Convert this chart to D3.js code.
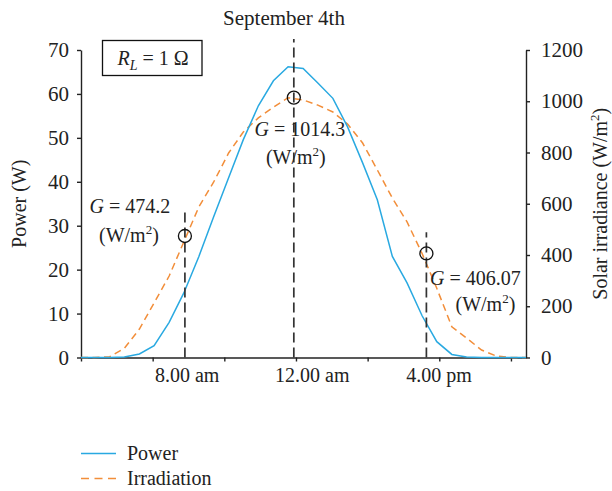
<!DOCTYPE html>
<html>
<head>
<meta charset="utf-8">
<script src="https://d3js.org/d3.v7.min.js"></script>
<style>
    body { margin: 0; background: #fff; }
    text { font-family: "Liberation Serif", "Times New Roman", serif; fill: #222; }
</style>
</head>
<body>
<svg id="chart" width="612" height="491"></svg>
<script>
// hour of day for each sample
const hours = [6.0, 6.38, 6.80, 7.21, 7.63, 8.04, 8.46, 8.87, 9.29, 9.70, 10.12, 10.53, 10.95, 11.37, 11.78,
    12.20, 12.61, 13.03, 13.44, 13.86, 14.27, 14.69, 15.10, 15.52, 15.93, 16.35, 16.76, 17.18, 17.59, 18.01, 18.42];
const power = [0, 0, 0, 0.1, 0.8, 2.7, 8.0, 14.7, 23.0, 32.0, 40.9, 49.6, 57.3, 63.0, 66.2,
    65.8, 62.5, 59.0, 52.5, 44.3, 35.9, 23.0, 17.0, 9.5, 3.6, 0.7, 0.1, 0, 0, 0, 0];
const irradiation = [0, 0, 3, 36, 111, 213, 318, 451, 588, 684, 798, 880, 935, 977, 1014,
    1005, 985, 958, 911, 837, 732, 622, 529, 406, 270, 120, 76, 29, 6, 0, 0];

const xTicks = [6, 8, 10, 12, 14, 16, 18];
const xLabelHours = [8.95, 12.44, 15.98];
const xLabels = ["8.00 am", "12.00 am", "4.00 pm"];
const powerTicks = [0, 10, 20, 30, 40, 50, 60, 70];
const irrTicks = [0, 200, 400, 600, 800, 1000, 1200];

// marked readings
const markerHours = [8.9, 11.94, 15.64];
const markerG = [474.2, 1014.3, 406.07];
const markerText = ["474.2", "1014.3", "406.07"];
const guideTop = [33.5, 72.5, 28.5]; // top of dashed guides, in W

const blue = "#29a9e1";
const orange = "#f28e3a";
const ink = "#222";

const svg = d3.select("#chart");

let margin = { top: 50, right: 86, bottom: 133.5, left: 81 };
let width = 612 - margin.left - margin.right;
let height = 491 - margin.top - margin.bottom;

let xScale = d3.scaleLinear().domain([6, 18.42]).range([margin.left, margin.left + width]);
let yPower = d3.scaleLinear().domain([0, 70]).range([margin.top + height, margin.top]);
let yIrr = d3.scaleLinear().domain([0, 1200]).range([margin.top + height, margin.top]);

const styleAxis = g => {
    g.selectAll("path, line").attr("stroke", ink).attr("stroke-width", 1.4);
    g.selectAll("text").attr("font-size", 21).attr("font-family", "Liberation Serif").attr("fill", ink);
};

// axes
svg.append("g")
    .attr("transform", "translate(" + margin.left + ",0)")
    .call(d3.axisLeft(yPower).tickValues(powerTicks).tickSize(4).tickSizeOuter(0).tickPadding(8))
    .call(styleAxis);

svg.append("g")
    .attr("transform", "translate(" + (margin.left + width) + ",0)")
    .call(d3.axisRight(yIrr).tickValues(irrTicks).tickSize(4).tickSizeOuter(0).tickPadding(11)
        .tickFormat(d3.format("d")))
    .call(styleAxis);

svg.append("g")
    .attr("transform", "translate(0," + (margin.top + height) + ")")
    .call(d3.axisBottom(xScale).tickValues(xTicks).tickSize(4).tickSizeOuter(0).tickFormat(""))
    .call(styleAxis);

svg.append("g")
    .attr("transform", "translate(0," + (margin.top + height) + ")")
    .call(d3.axisBottom(xScale).tickValues(xLabelHours).tickSize(0).tickPadding(10)
        .tickFormat((d, i) => xLabels[i]))
    .call(styleAxis)
    .call(g => g.select(".domain").remove())
    .call(g => g.selectAll("text").attr("font-size", 20));

// curves
let powerLine = d3.line()
    .x((d, i) => xScale(hours[i]))
    .y(d => yPower(d));

let irrLine = d3.line()
    .x((d, i) => xScale(hours[i]))
    .y(d => yIrr(d));

svg.append("path")
    .datum(irradiation)
    .attr("d", irrLine)
    .attr("fill", "none")
    .attr("stroke", orange)
    .attr("stroke-width", 1.5)
    .attr("stroke-dasharray", "7,4.5");

svg.append("path")
    .datum(power)
    .attr("d", powerLine)
    .attr("fill", "none")
    .attr("stroke", blue)
    .attr("stroke-width", 1.5);

// dashed guides and circles
svg.selectAll(".guide")
    .data(markerHours)
    .enter()
    .append("line")
    .attr("class", "guide")
    .attr("x1", d => xScale(d))
    .attr("x2", d => xScale(d))
    .attr("y1", yPower(0))
    .attr("y2", (d, i) => yPower(guideTop[i]))
    .attr("stroke", "#333")
    .attr("stroke-width", 1.7)
    .attr("stroke-dasharray", "10,5");

svg.selectAll(".marker")
    .data(markerHours)
    .enter()
    .append("circle")
    .attr("class", "marker")
    .attr("cx", d => xScale(d))
    .attr("cy", (d, i) => yIrr(markerG[i]))
    .attr("r", 6.5)
    .attr("fill", "none")
    .attr("stroke", "#111")
    .attr("stroke-width", 1.3);

// annotation offsets from each circle: [dx1, dy1, dx2, dy2]
const noteOffsets = [[-55, -23, -56, 6], [6, 38, 2, 66], [49, 32, 59, 58]];

markerHours.forEach((h, i) => {
    let cx = xScale(h);
    let cy = yIrr(markerG[i]);
    let o = noteOffsets[i];
    let t1 = svg.append("text")
        .attr("x", cx + o[0]).attr("y", cy + o[1])
        .attr("text-anchor", "middle").attr("font-size", 20);
    t1.append("tspan").attr("font-style", "italic").text("G");
    t1.append("tspan").text(" = " + markerText[i]);

    let t2 = svg.append("text")
        .attr("x", cx + o[2]).attr("y", cy + o[3])
        .attr("text-anchor", "middle").attr("font-size", 20);
    t2.append("tspan").text("(W/m");
    t2.append("tspan").attr("font-size", 13).attr("dy", -8).text("2");
    t2.append("tspan").attr("dy", 8).text(")");
});

// title
svg.append("text")
    .attr("x", 284).attr("y", 25)
    .attr("text-anchor", "middle")
    .attr("font-size", 21)
    .text("September 4th");

// load box
svg.append("rect")
    .attr("x", 102.5).attr("y", 40.5)
    .attr("width", 99.5).attr("height", 35)
    .attr("fill", "#fff")
    .attr("stroke", "#111")
    .attr("stroke-width", 1.3);

let rl = svg.append("text")
    .attr("x", 153).attr("y", 65)
    .attr("text-anchor", "middle")
    .attr("font-size", 20);
rl.append("tspan").attr("font-style", "italic").text("R");
rl.append("tspan").attr("font-style", "italic").attr("font-size", 14).attr("dy", 5).text("L");
rl.append("tspan").attr("dy", -5).text(" = 1 Ω");

// axis titles
svg.append("text")
    .attr("transform", "translate(25.5," + (margin.top + height / 2) + ") rotate(-90)")
    .attr("text-anchor", "middle")
    .attr("font-size", 20)
    .text("Power (W)");

let rightTitle = svg.append("text")
    .attr("transform", "translate(607," + (margin.top + height / 2) + ") rotate(-90)")
    .attr("text-anchor", "middle")
    .attr("font-size", 20);
rightTitle.append("tspan").text("Solar irradiance (W/m");
rightTitle.append("tspan").attr("font-size", 13).attr("dy", -8).text("2");
rightTitle.append("tspan").attr("dy", 8).text(")");

// legend
const legendItems = ["Power", "Irradiation"];
const legendColors = [blue, orange];
const legendDash = [null, "8,5.5"];

legendItems.forEach((name, i) => {
    let y = 460 + i * 25;
    svg.append("line")
        .attr("x1", 81).attr("x2", 116)
        .attr("y1", y - 6.5).attr("y2", y - 6.5)
        .attr("stroke", legendColors[i])
        .attr("stroke-width", 1.5)
        .attr("stroke-dasharray", legendDash[i]);
    svg.append("text")
        .attr("x", 127).attr("y", y)
        .attr("font-size", 20)
        .text(name);
});
</script>
</body>
</html>
